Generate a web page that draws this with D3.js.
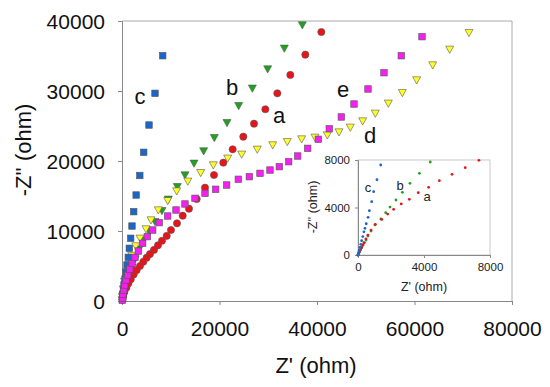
<!DOCTYPE html>
<html>
<head>
<meta charset="utf-8">
<script src="https://cdn.jsdelivr.net/npm/d3@7"></script>
<style>
body { margin: 0; background: #fff; }
svg { font-family: "Liberation Sans", Arial, sans-serif; }
</style>
</head>
<body>
<svg id="chart" width="550" height="387"></svg>
<script>
// main plot series, [Z', -Z''] in ohm
var seriesA = [[100,200],[250,700],[500,1300],[900,1900],[1300,2500],[1800,3100],[2400,3800],[3000,4400],[3690,5000],[4370,5610],[5060,6190],[5740,6710],[6560,7290],[7380,7960],[8200,8610],[9170,9290],[10050,10140],[11280,11100],[12450,12190],[13740,13190],[15320,14570],[17030,16190],[18870,18000],[20780,19760],[22700,21670],[24880,23470],[27080,25330],[29400,27390],[31860,29670],[34530,32290],[37600,35190],[40890,38430]]
var seriesB = [[50,150],[150,500],[300,1000],[600,1800],[1000,2700],[1500,3700],[2000,4800],[2700,6000],[3490,7390],[4370,8710],[5600,9900],[6770,11330],[8200,12900],[9500,14530],[11350,16330],[12920,18000],[14770,19670],[16750,21430],[18940,23330],[21540,25470],[23930,27900],[26740,30390],[29880,33140],[33300,36100],[36990,39430]]
var seriesC = [[100,300],[200,860],[300,1570],[410,2290],[620,3140],[820,4140],[1030,5140],[1290,6240],[1500,7530],[1780,8960],[2050,10710],[2400,12760],[2900,15140],[3650,17930],[4450,21240],[5540,25140],[6770,29670],[8350,35040]]
var seriesD = [[100,700],[250,1700],[500,2800],[900,4000],[1400,5200],[2000,6500],[2810,7860],[3690,8960],[4920,10290],[5950,11570],[7450,13000],[9370,14330],[11220,15710],[13500,17100],[16140,18330],[18730,19430],[21680,20390],[24550,20960],[27750,21670],[30910,22290],[33910,22760],[36860,23140],[39590,23380],[42120,23710],[44510,24140],[46830,24810],[49370,25710],[51960,26810],[54630,28240],[57500,29760],[60440,31570],[63730,33710],[67220,35950],[71180,38330]]
var seriesE = [[50,100],[140,390],[200,960],[350,1570],[550,2290],[820,3000],[1170,3710],[1580,4570],[2050,5380],[2670,6240],[3350,7140],[4240,8240],[5200,9190],[6300,10140],[7640,11190],[9370,12140],[11080,13000],[12920,13860],[14970,14670],[17030,15380],[19210,15960],[21470,16570],[23860,17390],[26120,17760],[28310,18240],[30360,18710],[32270,19190],[34190,19900],[36040,20710],[38090,21810],[40270,23100],[42520,24610],[44990,26290],[47590,28140],[50460,30290],[53740,32610],[57290,35040],[61540,37760]]

// inset series (zoom of low range)
var insetA = [[0,0],[40,120],[90,280],[150,450],[220,630],[290,820],[360,1010],[480,1350],[600,1680],[790,2100],[1050,2580],[1440,3000],[1800,3450],[2160,3850],[2620,4300],[3110,4690],[3650,5250],[4280,5700],[4930,6260],[5700,6790],[6500,7350],[7330,7970]]
var insetB = [[0,0],[40,100],[90,250],[150,420],[220,620],[300,850],[390,1050],[485,1260],[600,1600],[790,2020],[1030,2530],[1390,3030],[1680,3560],[1940,4040],[2300,4630],[2690,5280],[3150,6040],[3720,6880],[4380,7830]]
var insetC = [[0,0],[40,200],[80,400],[120,650],[170,900],[220,1200],[290,1550],[360,1950],[420,2250],[500,2630],[610,3170],[690,3730],[830,4490],[950,5330],[1150,6340],[1375,7580]]

var mainTicks = [0, 20000, 40000, 60000, 80000]
var mainYTicks = [0, 10000, 20000, 30000, 40000]
var insetTicks = [0, 4000, 8000]

var svg = d3.select('#chart')

var x = d3.scaleLinear().domain([0, 80000]).range([122, 512])
var y = d3.scaleLinear().domain([0, 40000]).range([301, 21])

// frame top/right
svg.append('line').attr('x1', 122).attr('x2', 512).attr('y1', 21).attr('y2', 21).attr('stroke', '#aaa')
svg.append('line').attr('x1', 512).attr('x2', 512).attr('y1', 21).attr('y2', 301).attr('stroke', '#aaa')

var xAxis = svg.append('g').attr('transform', 'translate(0,301)')
    .call(d3.axisBottom(x).tickValues(mainTicks).tickFormat(d3.format('d')).tickSize(4).tickPadding(16))
var yAxis = svg.append('g').attr('transform', 'translate(122,0)')
    .call(d3.axisLeft(y).tickValues(mainYTicks).tickFormat(d3.format('d')).tickSize(4).tickPadding(13))
;[xAxis, yAxis].forEach(function(g) {
    g.select('.domain').attr('stroke', '#888')
    g.selectAll('.tick line').attr('stroke', '#888')
    g.selectAll('.tick text').attr('font-size', 21).attr('fill', '#111')
        .style('font-family', '"Liberation Sans", Arial, sans-serif')
})
yAxis.selectAll('.tick text').attr('dy', '0.36em')

svg.append('text').attr('x', 316).attr('y', 373).attr('text-anchor', 'middle')
    .attr('font-size', 22).attr('fill', '#111').text("Z' (ohm)")
svg.append('text').attr('transform', 'translate(31,150) rotate(-90)').attr('text-anchor', 'middle')
    .attr('font-size', 22).attr('fill', '#111').text("-Z'' (ohm)")

function squares(data, color, size) {
    svg.append('g').selectAll('rect').data(data).join('rect')
        .attr('x', function(d) { return x(d[0]) - size / 2 })
        .attr('y', function(d) { return y(d[1]) - size / 2 })
        .attr('width', size).attr('height', size)
        .attr('fill', color).attr('stroke', '#555').attr('stroke-width', 0.6)
}
function circles(data, color, r) {
    svg.append('g').selectAll('circle').data(data).join('circle')
        .attr('cx', function(d) { return x(d[0]) })
        .attr('cy', function(d) { return y(d[1]) })
        .attr('r', r)
        .attr('fill', color).attr('stroke', '#555').attr('stroke-width', 0.6)
}
function triangles(data, color, s) {
    svg.append('g').selectAll('path').data(data).join('path')
        .attr('d', function(d) {
            var cx = x(d[0]), cy = y(d[1])
            return 'M' + (cx - s / 2) + ',' + (cy - s * 0.4) + 'L' + (cx + s / 2) + ',' + (cy - s * 0.4) + 'L' + cx + ',' + (cy + s * 0.5) + 'Z'
        })
        .attr('fill', color).attr('stroke', '#555').attr('stroke-width', 0.6)
}

triangles(seriesB, '#1ea31e', 8)
triangles(seriesD, '#ffff26', 8)
squares(seriesC, '#1b66c9', 6.5)
circles(seriesA, '#e8141a', 3.6)
squares(seriesE, '#f51ff0', 6.5)

// series labels
var labels = [['c', 140, 96], ['b', 232, 87], ['a', 279, 115], ['e', 343, 89], ['d', 370, 135]]
svg.append('g').selectAll('text').data(labels).join('text')
    .attr('x', function(d) { return d[1] }).attr('y', function(d) { return d[2] })
    .attr('dy', '0.36em').attr('text-anchor', 'middle')
    .attr('font-size', 22).attr('fill', '#111').text(function(d) { return d[0] })

// inset
var ix = d3.scaleLinear().domain([0, 8000]).range([358, 490])
var iy = d3.scaleLinear().domain([0, 8000]).range([255, 160])
var inset = svg.append('g')
inset.append('rect').attr('x', 358).attr('y', 160).attr('width', 132).attr('height', 95)
    .attr('fill', '#fff').attr('stroke', '#bbb').attr('stroke-width', 0.8)
var ixAxis = inset.append('g').attr('transform', 'translate(0,255)')
    .call(d3.axisBottom(ix).tickValues(insetTicks).tickFormat(d3.format('d')).tickSize(3).tickPadding(5))
var iyAxis = inset.append('g').attr('transform', 'translate(358,0)')
    .call(d3.axisLeft(iy).tickValues(insetTicks).tickFormat(d3.format('d')).tickSize(3).tickPadding(5))
;[ixAxis, iyAxis].forEach(function(g) {
    g.select('.domain').attr('stroke', '#888')
    g.selectAll('.tick line').attr('stroke', '#888')
    g.selectAll('.tick text').attr('font-size', 11.5).attr('fill', '#222')
        .style('font-family', '"Liberation Sans", Arial, sans-serif')
})
inset.append('text').attr('x', 424).attr('y', 291).attr('text-anchor', 'middle')
    .attr('font-size', 12.5).attr('fill', '#222').text("Z' (ohm)")
inset.append('text').attr('transform', 'translate(317,207) rotate(-90)').attr('text-anchor', 'middle')
    .attr('font-size', 12.5).attr('fill', '#222').text("-Z'' (ohm)")

function dots(data, color) {
    inset.append('g').selectAll('circle').data(data).join('circle')
        .attr('cx', function(d) { return ix(d[0]) })
        .attr('cy', function(d) { return iy(d[1]) })
        .attr('r', 1.4).attr('fill', color)
}
dots(insetB, '#1ea31e')
dots(insetA, '#e8141a')
dots(insetC, '#1b66c9')

var insetLabels = [['c', 368, 187], ['b', 400, 185], ['a', 427, 196]]
inset.append('g').selectAll('text').data(insetLabels).join('text')
    .attr('x', function(d) { return d[1] }).attr('y', function(d) { return d[2] })
    .attr('dy', '0.36em').attr('text-anchor', 'middle')
    .attr('font-size', 13).attr('fill', '#222').text(function(d) { return d[0] })
</script>
</body>
</html>
